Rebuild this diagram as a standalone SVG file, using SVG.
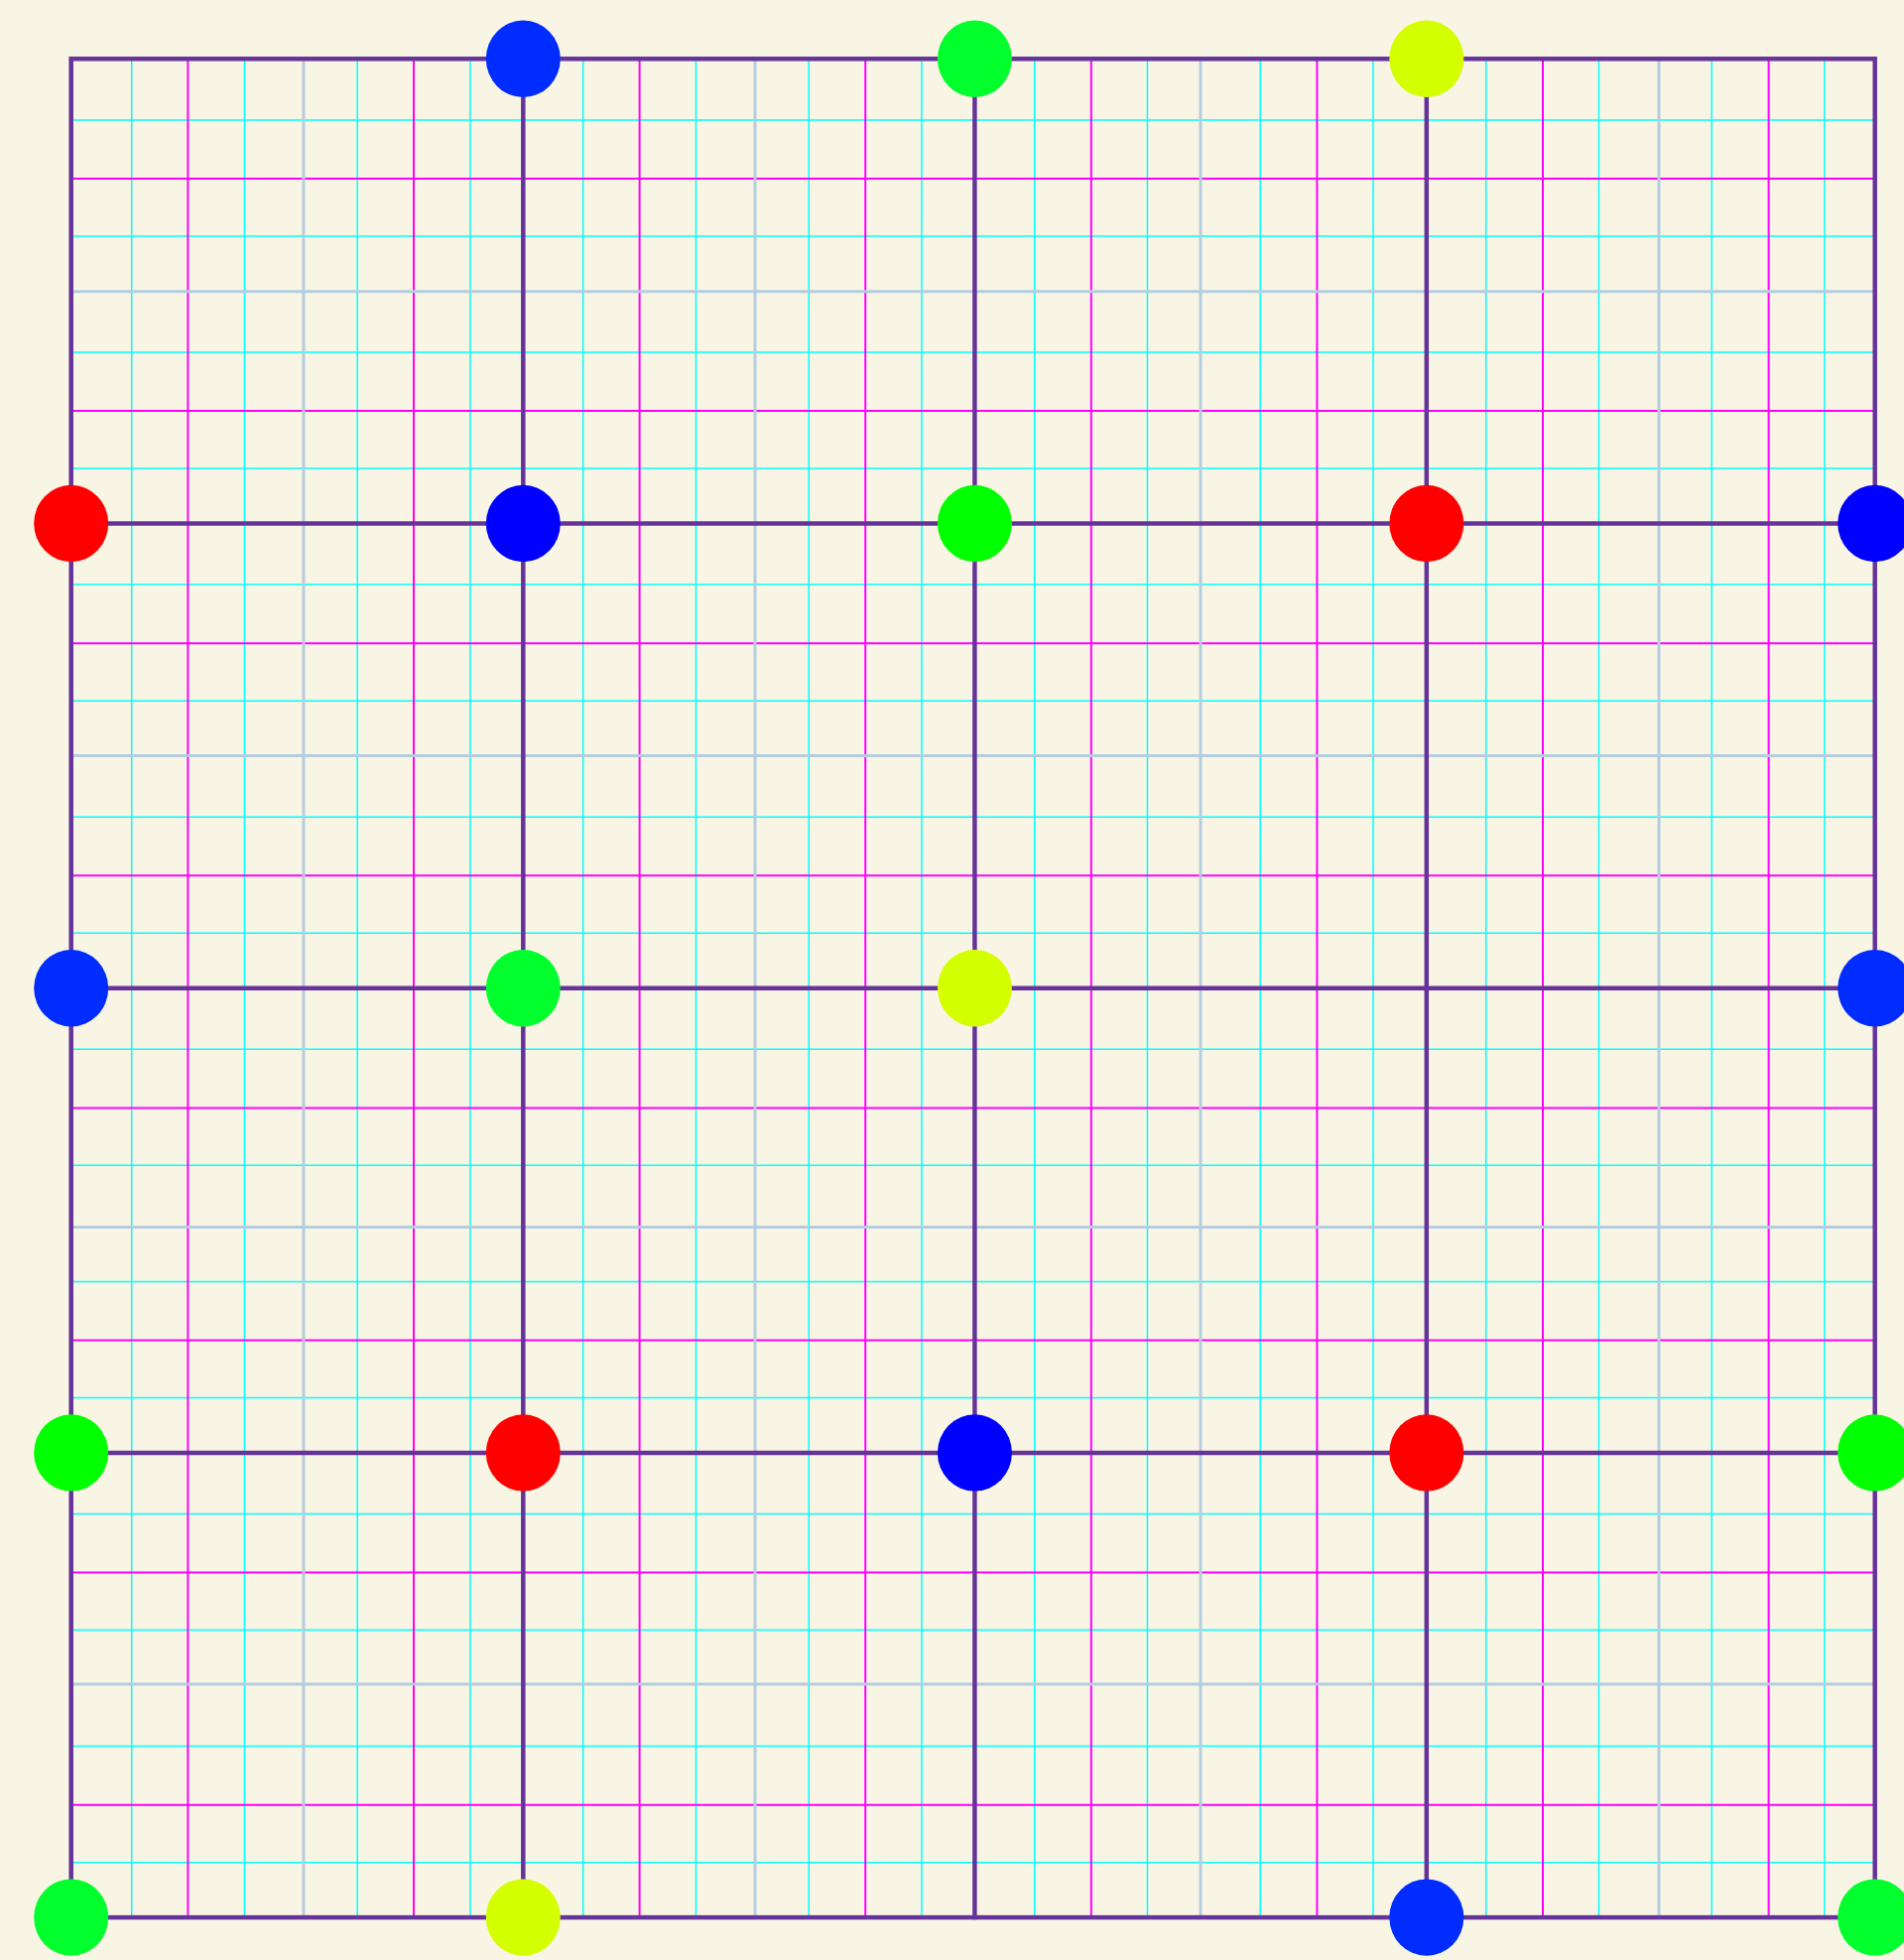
<svg xmlns="http://www.w3.org/2000/svg" width="1919" height="1975" viewBox="0 0 1919 1975">
<style>
.bg{fill:#f8f5e4}
.cy{stroke:#00ffff;stroke-width:1.5;fill:none}
.mg{stroke:#ff00ff;stroke-width:2;fill:none}
.lb{stroke:#b4cde0;stroke-width:3;fill:none}
.main{stroke:#663399;stroke-width:4.5;fill:none;stroke-linecap:square}
.red{fill:#ff0000}
.blue{fill:#0000ff}
.blue2{fill:#002cff}
.green{fill:#00ff00}
.green2{fill:#00ff2c}
.yellow{fill:#d4ff00}
</style>
<rect class="bg" x="0" y="0" width="1919" height="1975"/>
<g id="grid">
<path class="cy" d="M132.7 59.3V1932.1M246.45 59.3V1932.1M360.2 59.3V1932.1M473.95 59.3V1932.1M587.7 59.3V1932.1M701.45 59.3V1932.1M815.2 59.3V1932.1M928.95 59.3V1932.1M1042.7 59.3V1932.1M1156.45 59.3V1932.1M1270.2 59.3V1932.1M1383.95 59.3V1932.1M1497.7 59.3V1932.1M1611.45 59.3V1932.1M1725.2 59.3V1932.1M1838.95 59.3V1932.1"/>
<path class="cy" d="M71.7 120.9H1889.7M71.7 237.95H1889.7M71.7 355H1889.7M71.7 472.05H1889.7M71.7 589.1H1889.7M71.7 706.15H1889.7M71.7 823.2H1889.7M71.7 940.25H1889.7M71.7 1057.3H1889.7M71.7 1174.35H1889.7M71.7 1291.4H1889.7M71.7 1408.45H1889.7M71.7 1525.5H1889.7M71.7 1642.55H1889.7M71.7 1759.6H1889.7M71.7 1876.65H1889.7"/>
<path class="mg" d="M189.4 59.3V1932.1M417 59.3V1932.1M644.6 59.3V1932.1M872.2 59.3V1932.1M1099.8 59.3V1932.1M1327.4 59.3V1932.1M1555 59.3V1932.1M1782.6 59.3V1932.1"/>
<path class="mg" d="M71.7 180H1889.7M71.7 414.1H1889.7M71.7 648.2H1889.7M71.7 882.3H1889.7M71.7 1116.4H1889.7M71.7 1350.5H1889.7M71.7 1584.6H1889.7M71.7 1818.7H1889.7"/>
<path class="lb" d="M306 59.3V1932.1M761 59.3V1932.1M1210 59.3V1932.1M1672 59.3V1932.1"/>
<path class="lb" d="M71.7 293.7H1889.7M71.7 761.5H1889.7M71.7 1236.5H1889.7M71.7 1697H1889.7"/>
</g>
<g id="connectors">
<rect class="main" x="71.7" y="59.3" width="1818" height="1872.8"/>
<path class="main" d="M527.3 59.3V1932.1M982.4 59.3V1932.1M1437.8 59.3V1932.1"/>
<path class="main" d="M71.7 527.5H1889.7M71.7 995.7H1889.7M71.7 1463.9H1889.7"/>
</g>
<g id="n-0-1"><ellipse class="blue2" cx="527.3" cy="59.3" rx="37.5" ry="38.7"/></g>
<g id="n-0-2"><ellipse class="green2" cx="982.4" cy="59.3" rx="37.5" ry="38.7"/></g>
<g id="n-0-3"><ellipse class="yellow" cx="1437.8" cy="59.3" rx="37.5" ry="38.7"/></g>
<g id="n-1-0"><ellipse class="red" cx="71.7" cy="527.5" rx="37.5" ry="38.7"/></g>
<g id="n-1-1"><ellipse class="blue" cx="527.3" cy="527.5" rx="37.5" ry="38.7"/></g>
<g id="n-1-2"><ellipse class="green" cx="982.4" cy="527.5" rx="37.5" ry="38.7"/></g>
<g id="n-1-3"><ellipse class="red" cx="1437.8" cy="527.5" rx="37.5" ry="38.7"/></g>
<g id="n-1-4"><ellipse class="blue" cx="1889.7" cy="527.5" rx="37.5" ry="38.7"/></g>
<g id="n-2-0"><ellipse class="blue2" cx="71.7" cy="995.7" rx="37.5" ry="38.7"/></g>
<g id="n-2-1"><ellipse class="green2" cx="527.3" cy="995.7" rx="37.5" ry="38.7"/></g>
<g id="n-2-2"><ellipse class="yellow" cx="982.4" cy="995.7" rx="37.5" ry="38.7"/></g>
<g id="n-2-4"><ellipse class="blue2" cx="1889.7" cy="995.7" rx="37.5" ry="38.7"/></g>
<g id="n-3-0"><ellipse class="green" cx="71.7" cy="1463.9" rx="37.5" ry="38.7"/></g>
<g id="n-3-1"><ellipse class="red" cx="527.3" cy="1463.9" rx="37.5" ry="38.7"/></g>
<g id="n-3-2"><ellipse class="blue" cx="982.4" cy="1463.9" rx="37.5" ry="38.7"/></g>
<g id="n-3-3"><ellipse class="red" cx="1437.8" cy="1463.9" rx="37.5" ry="38.7"/></g>
<g id="n-3-4"><ellipse class="green" cx="1889.7" cy="1463.9" rx="37.5" ry="38.7"/></g>
<g id="n-4-0"><ellipse class="green2" cx="71.7" cy="1932.1" rx="37.5" ry="38.7"/></g>
<g id="n-4-1"><ellipse class="yellow" cx="527.3" cy="1932.1" rx="37.5" ry="38.7"/></g>
<g id="n-4-3"><ellipse class="blue2" cx="1437.8" cy="1932.1" rx="37.5" ry="38.7"/></g>
<g id="n-4-4"><ellipse class="green2" cx="1889.7" cy="1932.1" rx="37.5" ry="38.7"/></g>
</svg>
